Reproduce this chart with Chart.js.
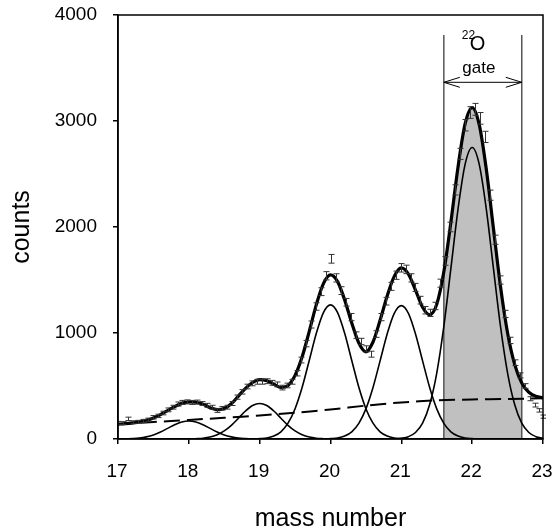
<!DOCTYPE html>
<html>
<head>
<meta charset="utf-8">
<script src="https://cdn.jsdelivr.net/npm/chart.js@4.4.1/dist/chart.umd.min.js"></script>
<style>
  html, body { margin: 0; padding: 0; background: #fff; }
  #wrap { width: 552px; height: 532px; }
</style>
</head>
<body>
<div id="wrap"><canvas id="massChart" width="552" height="532"></canvas></div>
<script>
// fit grid (mass number, step 0.1)
const mass = [17.0, 17.1, 17.2, 17.3, 17.4, 17.5, 17.6, 17.7, 17.8, 17.9,
    18.0, 18.1, 18.2, 18.3, 18.4, 18.5, 18.6, 18.7, 18.8, 18.9,
    19.0, 19.1, 19.2, 19.3, 19.4, 19.5, 19.6, 19.7, 19.8, 19.9,
    20.0, 20.1, 20.2, 20.3, 20.4, 20.5, 20.6, 20.7, 20.8, 20.9,
    21.0, 21.1, 21.2, 21.3, 21.4, 21.5, 21.6, 21.7, 21.8, 21.9,
    22.0, 22.1, 22.2, 22.3, 22.4, 22.5, 22.6, 22.7, 22.8, 22.9, 23.0];

// total fit (thick line)
const fitTotal = [140, 145, 152, 161, 176, 198, 230, 268, 306, 336,
    351, 347, 327, 295, 277, 287, 332, 405, 478, 533,
    560, 550, 517, 486, 505, 600, 775, 1015, 1268, 1466,
    1548, 1485, 1312, 1095, 905, 822, 915, 1120, 1350, 1534,
    1614, 1556, 1405, 1243, 1172, 1271, 1577, 2048, 2565, 2972,
    3127, 2965, 2542, 1988, 1439, 1000, 704, 529, 441, 403, 389];

// single peaks (thin lines), same grid as mass
const peak18 = [0, 1, 4, 9, 20, 38, 66, 100, 134, 160,
    170, 160, 134, 100, 66, 38, 20, 9, 4, 1,
    0, 0, 0, 0, 0, 0, 0, 0, 0, 0, 0, 0, 0, 0, 0, 0, 0, 0, 0, 0,
    0, 0, 0, 0, 0, 0, 0, 0, 0, 0, 0, 0, 0, 0, 0, 0, 0, 0, 0, 0, 0];
const peak19 = [0, 0, 0, 0, 0, 0, 0, 0, 0, 0,
    1, 3, 7, 18, 40, 76, 129, 196, 264, 316,
    335, 316, 264, 196, 129, 76, 40, 18, 7, 3,
    1, 0, 0, 0, 0, 0, 0, 0, 0, 0,
    0, 0, 0, 0, 0, 0, 0, 0, 0, 0, 0, 0, 0, 0, 0, 0, 0, 0, 0, 0, 0];
const peak20 = [0, 0, 0, 0, 0, 0, 0, 0, 0, 0,
    0, 0, 0, 0, 0, 0, 0, 0, 0, 0,
    4, 10, 28, 68, 149, 286, 488, 741, 997, 1192,
    1265, 1192, 997, 741, 488, 286, 149, 68, 28, 10,
    4, 0, 0, 0, 0, 0, 0, 0, 0, 0, 0, 0, 0, 0, 0, 0, 0, 0, 0, 0, 0];
const peak21 = [0, 0, 0, 0, 0, 0, 0, 0, 0, 0,
    0, 0, 0, 0, 0, 0, 0, 0, 0, 0,
    0, 0, 0, 0, 0, 0, 0, 0, 0, 0,
    4, 10, 28, 68, 148, 284, 486, 737, 991, 1185,
    1258, 1185, 991, 737, 486, 284, 148, 68, 28, 10,
    4, 0, 0, 0, 0, 0, 0, 0, 0, 0, 0];
const peak22 = [0, 0, 0, 0, 0, 0, 0, 0, 0, 0,
    0, 0, 0, 0, 0, 0, 0, 0, 0, 0,
    0, 0, 0, 0, 0, 0, 0, 0, 0, 0,
    0, 0, 0, 0, 0, 0, 0, 0, 0, 0,
    7, 22, 61, 149, 325, 622, 1062, 1612, 2167, 2591,
    2750, 2591, 2167, 1612, 1062, 622, 325, 149, 61, 22, 7];

// background (dashed)
const bgMass = [17.0, 17.5, 18.0, 18.5, 19.0, 19.5, 20.0, 20.5, 21.0, 21.5, 22.0, 22.5, 23.0];
const bgCounts = [140, 160, 180, 200, 222, 248, 278, 315, 345, 365, 373, 378, 384];

// measured points with error bars
const dataMass = [17.00, 17.07, 17.14, 17.21, 17.28, 17.35, 17.42, 17.49, 17.56, 17.63,
    17.70, 17.77, 17.84, 17.91, 17.98, 18.05, 18.12, 18.19, 18.26, 18.33,
    18.40, 18.47, 18.54, 18.61, 18.68, 18.75, 18.82, 18.89, 18.96, 19.03,
    19.10, 19.17, 19.24, 19.31, 19.38, 19.45, 19.52, 19.59, 19.66, 19.73,
    19.80, 19.87, 19.94, 20.01, 20.08, 20.15, 20.22, 20.29, 20.36, 20.43,
    20.50, 20.57, 20.64, 20.71, 20.78, 20.85, 20.92, 20.99, 21.06, 21.13,
    21.20, 21.27, 21.34, 21.41, 21.48, 21.55, 21.62, 21.69, 21.76, 21.83,
    21.90, 21.97, 22.04, 22.11, 22.18, 22.25, 22.32, 22.39, 22.46, 22.53,
    22.60, 22.67, 22.74, 22.81, 22.88, 22.95, 23.00];
const dataCounts = [152, 150, 190, 158, 162, 170, 182, 205, 218, 245,
    275, 300, 330, 345, 350, 345, 348, 335, 318, 300,
    268, 290, 300, 335, 395, 445, 495, 525, 540, 540,
    545, 530, 515, 485, 505, 540, 620, 745, 900, 1080,
    1250, 1390, 1540, 1700, 1520, 1400, 1290, 1150, 980, 920,
    850, 800, 990, 1150, 1300, 1440, 1545, 1615, 1600, 1520,
    1430, 1310, 1215, 1190, 1255, 1470, 1680, 2000, 2350, 2690,
    2960, 3080, 3110, 3025, 2850, 2300, 1880, 1500, 1180, 930,
    720, 600, 500, 380, 320, 270, 211];
const dataErr = [14, 14, 16, 14, 14, 15, 15, 16, 16, 17,
    18, 18, 19, 19, 19, 19, 19, 18, 18, 18,
    17, 17, 18, 19, 20, 21, 22, 23, 23, 23,
    23, 23, 23, 22, 22, 23, 25, 27, 30, 33,
    35, 37, 39, 41, 39, 37, 36, 34, 31, 30,
    29, 28, 31, 34, 36, 38, 39, 40, 40, 39,
    38, 36, 35, 34, 35, 38, 41, 45, 48, 52,
    54, 55, 56, 55, 53, 48, 43, 39, 34, 30,
    27, 24, 22, 19, 18, 16, 15];

// 22O gate
const gateFrom = 21.6;
const gateTo = 22.7;
const gateTop = 3811;
const arrowAt = 3365;

const pts = (xs, ys) => xs.map((x, i) => ({ x: x, y: ys[i] }));
const gateFill = pts(mass, fitTotal).filter(p => p.x >= gateFrom - 1e-9 && p.x <= gateTo + 1e-9);

const FONT = "'Liberation Sans', Arial, sans-serif";

const errorBars = {
    id: 'errorBars',
    afterDatasetsDraw(chart) {
        const { ctx, scales: { x, y }, chartArea } = chart;
        ctx.save();
        ctx.beginPath();
        ctx.rect(chartArea.left, chartArea.top - 2, chartArea.right - chartArea.left + 3, chartArea.bottom - chartArea.top + 2);
        ctx.clip();
        ctx.strokeStyle = '#333';
        ctx.lineWidth = 1;
        dataMass.forEach((m, i) => {
            const px = Math.round(x.getPixelForValue(m)) + 0.5;
            const y1 = y.getPixelForValue(dataCounts[i] + dataErr[i]);
            const y2 = y.getPixelForValue(dataCounts[i] - dataErr[i]);
            ctx.beginPath();
            ctx.moveTo(px, y1); ctx.lineTo(px, y2);
            ctx.moveTo(px - 3, y1); ctx.lineTo(px + 3, y1);
            ctx.moveTo(px - 3, y2); ctx.lineTo(px + 3, y2);
            ctx.stroke();
        });
        ctx.restore();
    }
};

const frameAndGate = {
    id: 'frameAndGate',
    afterDraw(chart) {
        const { ctx, scales: { x, y }, chartArea } = chart;
        ctx.save();
        // box
        ctx.strokeStyle = '#000';
        ctx.lineWidth = 1.5;
        ctx.strokeRect(chartArea.left, chartArea.top, chartArea.right - chartArea.left, chartArea.bottom - chartArea.top);
        // arrow
        const xa = x.getPixelForValue(gateFrom);
        const xb = x.getPixelForValue(gateTo);
        const ya = y.getPixelForValue(arrowAt);
        ctx.lineWidth = 1;
        ctx.strokeStyle = '#000';
        ctx.beginPath();
        ctx.moveTo(xa, ya); ctx.lineTo(xb, ya);
        ctx.moveTo(xa + 16, ya - 5); ctx.lineTo(xa, ya); ctx.lineTo(xa + 16, ya + 5);
        ctx.moveTo(xb - 16, ya - 5); ctx.lineTo(xb, ya); ctx.lineTo(xb - 16, ya + 5);
        ctx.stroke();
        // label: superscript 22, O, gate
        ctx.fillStyle = '#000';
        ctx.textBaseline = 'alphabetic';
        ctx.textAlign = 'left';
        const cx = (xa + xb) / 2;
        ctx.font = '12px ' + FONT;
        ctx.fillText('22', cx - 21, y.getPixelForValue(3770));
        ctx.font = '20px ' + FONT;
        ctx.fillText('O', cx - 13, y.getPixelForValue(3668));
        ctx.font = '17px ' + FONT;
        ctx.textAlign = 'center';
        ctx.fillText('gate', cx - 4, y.getPixelForValue(3455));
        ctx.restore();
    }
};

const line = (data, width, extra) => Object.assign({
    data: data,
    showLine: true,
    borderColor: '#000',
    borderWidth: width,
    pointRadius: 0,
    fill: false,
    cubicInterpolationMode: 'monotone'
}, extra || {});

new Chart(document.getElementById('massChart'), {
    type: 'scatter',
    data: {
        datasets: [
            line(pts(mass, fitTotal), 3.2),
            line(pts(bgMass, bgCounts), 2, { borderDash: [16, 7], tension: 0.3, cubicInterpolationMode: 'default' }),
            line(pts(mass, peak18), 1.6),
            line(pts(mass, peak19), 1.6),
            line(pts(mass, peak20), 1.6),
            line(pts(mass, peak21), 1.6),
            line(pts(mass, peak22), 1.6),
            line([{ x: gateFrom, y: 0 }, { x: gateFrom, y: gateTop }], 1.5, { borderColor: '#555' }),
            line([{ x: gateTo, y: 0 }, { x: gateTo, y: gateTop }], 1.5, { borderColor: '#555' }),
            line(gateFill, 0, { fill: 'origin', backgroundColor: '#c0c0c0' })
        ]
    },
    options: {
        responsive: false,
        animation: false,
        events: [],
        layout: { padding: { left: 0, right: 9, top: 15, bottom: 0 } },
        plugins: { legend: { display: false }, tooltip: { enabled: false } },
        scales: {
            x: {
                type: 'linear',
                min: 17,
                max: 23,
                afterFit: s => { s.height = 93; s.paddingLeft = 0; s.paddingRight = 0; },
                ticks: { stepSize: 1, color: '#000', padding: 16, labelOffset: -1, callback: v => String(v), font: { size: 19, family: FONT } },
                grid: { drawOnChartArea: false, tickLength: 5, color: '#000', lineWidth: 1.5 },
                border: { color: '#000', width: 1.5 },
                title: { display: true, text: 'mass number', color: '#000', padding: { top: 0, bottom: -2 }, font: { size: 25, family: FONT } }
            },
            y: {
                min: 0,
                max: 4000,
                afterFit: s => { s.width = 118; s.paddingTop = 0; s.paddingBottom = 0; },
                ticks: { stepSize: 1000, color: '#000', padding: 16, callback: v => String(v), font: { size: 19, family: FONT } },
                grid: { drawOnChartArea: false, tickLength: 5, color: '#000', lineWidth: 1.5 },
                border: { color: '#000', width: 1.5 },
                title: { display: true, text: 'counts', color: '#000', padding: { top: 7, bottom: 0 }, font: { size: 25, family: FONT } }
            }
        }
    },
    plugins: [errorBars, frameAndGate]
});
</script>
</body>
</html>
